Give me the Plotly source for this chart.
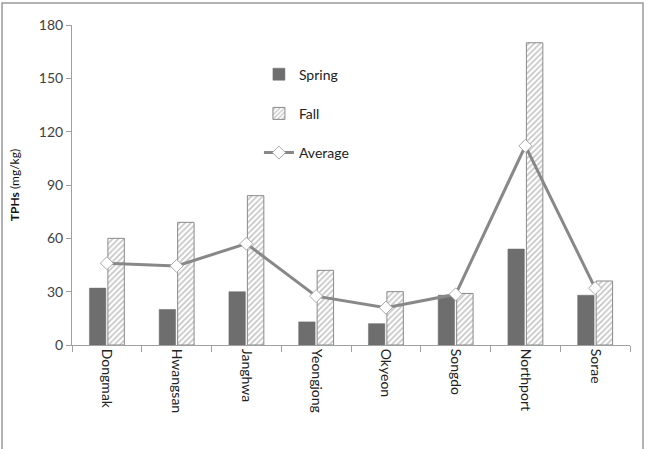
import plotly.graph_objects as go

sites = ["Dongmak", "Hwangsan", "Janghwa", "Yeongjong", "Okyeon", "Songdo", "Northport", "Sorae"]
spring = [32, 20, 30, 13, 12, 28, 54, 28]
fall = [60, 69, 84, 42, 30, 29, 170, 36]
average = [46, 44.5, 57, 27.5, 21, 28.5, 112, 32]
y_ticks = [0, 30, 60, 90, 120, 150, 180]

FONT = "Lato"
fig = go.Figure()
fig.add_trace(go.Bar(x=sites, y=spring, name="Spring", legendgroup="a",
                     marker=dict(color="#6e6e6e", line=dict(color="#6e6e6e", width=0.5))))
fig.add_trace(go.Bar(x=sites, y=fall, name="Fall", legendgroup="b",
                     marker=dict(color="white", line=dict(color="#8a8a8a", width=1),
                                 pattern=dict(shape="/", fgcolor="#8a8a8a", bgcolor="white",
                                              size=4, solidity=0.4))))
fig.add_trace(go.Scatter(x=sites, y=average, name="Average", legendgroup="c", mode="lines+markers",
                         line=dict(color="#888888", width=3),
                         marker=dict(symbol="diamond", size=10, color="white",
                                     line=dict(color="#aaaaaa", width=1))))

fig.add_shape(type="rect", xref="paper", yref="paper", x0=-0.1254, x1=1.0233, y0=-0.4, y1=1.06875,
              line=dict(color="#999999", width=1.5), fillcolor="rgba(0,0,0,0)", layer="below")

fig.update_layout(
    width=657, height=449,
    margin=dict(l=72, r=27, t=25, b=104),
    paper_bgcolor="white", plot_bgcolor="white",
    barmode="group", bargap=0.47, bargroupgap=0.11,
    font=dict(family=FONT, color="#404040"),
    showlegend=True,
    legend=dict(x=0.335, y=0.895, xanchor="left", yanchor="top", bgcolor="rgba(0,0,0,0)",
                font=dict(size=14, family=FONT, color="#222"), tracegroupgap=18,
                traceorder="grouped"),
    xaxis=dict(type="category", tickangle=90, tickson="boundaries", ticks="outside", ticklen=6,
               tickcolor="#a0a0a0", showline=True, linecolor="#a0a0a0", linewidth=1,
               tickfont=dict(size=14, family=FONT, color="#222"), showgrid=False),
    yaxis=dict(range=[0, 180], tickvals=y_ticks, ticks="outside", ticklen=5, tickcolor="#a0a0a0",
               showline=True, linecolor="#a0a0a0", linewidth=1, showgrid=False, zeroline=False,
               tickfont=dict(size=14, family=FONT, color="#404040"),
               title=dict(text="<b>TPHs</b> (mg/kg)", font=dict(size=12, family=FONT, color="#111"),
                          standoff=16)),
)

fig.write_html("out.html")
